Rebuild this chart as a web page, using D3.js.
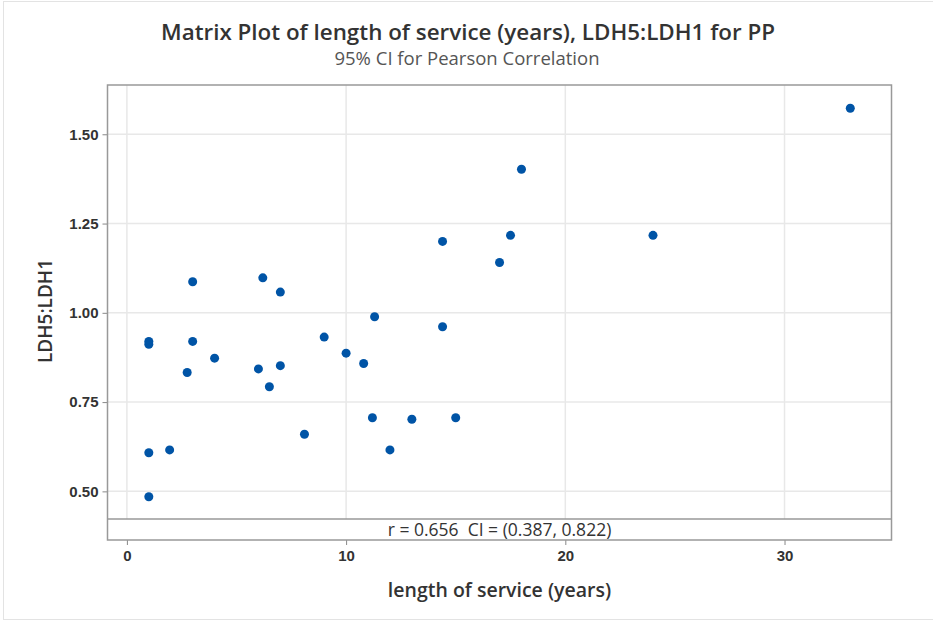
<!DOCTYPE html>
<html>
<head>
<meta charset="utf-8">
<script src="https://cdn.jsdelivr.net/npm/d3@7"></script>
<style>
  body { margin: 0; background: #fff; }
  svg { display: block; font-family: "Open Sans", "Noto Sans", sans-serif; }
</style>
</head>
<body>
<svg id="chart" width="933" height="621"></svg>
<script>
// length of service (years) vs LDH5:LDH1, one entry per subject
const service = [1, 1, 1, 1, 1.95, 2.75, 3, 3, 4, 6, 6.2, 6.5, 7, 7, 8.1, 9, 10, 10.8, 11.2, 11.3, 12, 13, 14.4, 14.4, 15, 17, 17.5, 18, 24, 33];
const ratio   = [0.92, 0.912, 0.608, 0.485, 0.616, 0.833, 1.087, 0.92, 0.873, 0.843, 1.098, 0.793, 1.058, 0.852, 0.66, 0.932, 0.887, 0.858, 0.706, 0.989, 0.616, 0.702, 1.2, 0.961, 0.706, 1.141, 1.217, 1.402, 1.217, 1.573];
const xTicks = [0, 10, 20, 30];
const yTicks = [0.50, 0.75, 1.00, 1.25, 1.50];
const title = "Matrix Plot of length of service (years), LDH5:LDH1 for PP";
const subtitle = "95% CI for Pearson Correlation";
const corrText = "r = 0.656  CI = (0.387, 0.822)";

const svg = d3.select("#chart");
const W = 933, H = 621;
const box = { left: 107.5, right: 891.5, top: 85, bottom: 540, info: 519 };

// outer frame
svg.append("rect")
    .attr("x", 3.5).attr("y", 1.5)
    .attr("width", W + 10).attr("height", H - 3)
    .attr("fill", "#fff").attr("stroke", "#e3e3e3");

const x = d3.scaleLinear().domain([-0.885, 34.88]).range([box.left, box.right]);
const y = d3.scaleLinear().domain([0.4226, 1.638]).range([box.info, box.top]);

// gridlines
svg.append("g").selectAll("line.gx").data(xTicks).enter().append("line")
    .attr("x1", d => x(d)).attr("x2", d => x(d))
    .attr("y1", box.top).attr("y2", box.info)
    .attr("stroke", "#e8e8e8").attr("stroke-width", 1.5);
svg.append("g").selectAll("line.gy").data(yTicks).enter().append("line")
    .attr("x1", box.left).attr("x2", box.right)
    .attr("y1", d => y(d)).attr("y2", d => y(d))
    .attr("stroke", "#e8e8e8").attr("stroke-width", 1.5);

// axes
const xAxis = svg.append("g")
    .attr("transform", `translate(0,${box.bottom})`)
    .call(d3.axisBottom(x).tickValues(xTicks).tickSize(5).tickPadding(5).tickFormat(d3.format("d")));
const yAxis = svg.append("g")
    .attr("transform", `translate(${box.left},0)`)
    .call(d3.axisLeft(y).tickValues(yTicks).tickSize(5).tickPadding(4).tickFormat(d3.format(".2f")));
[xAxis, yAxis].forEach(a => {
    a.select(".domain").remove();
    a.selectAll("line").attr("stroke", "#888");
    a.selectAll("text").attr("fill", "#333").style("font-size", "15px").style("font-weight", 600);
});

// info panel + border
svg.append("line")
    .attr("x1", box.left).attr("x2", box.right)
    .attr("y1", box.info).attr("y2", box.info)
    .attr("stroke", "#999").attr("stroke-width", 1.5);
svg.append("rect")
    .attr("x", box.left).attr("y", box.top)
    .attr("width", box.right - box.left).attr("height", box.bottom - box.top)
    .attr("fill", "none").attr("stroke", "#999").attr("stroke-width", 1.5);

svg.append("text")
    .attr("x", (box.left + box.right) / 2).attr("y", 536)
    .attr("text-anchor", "middle").attr("fill", "#333")
    .attr("xml:space", "preserve")
    .style("white-space", "pre")
    .style("font-size", "17.5px")
    .text(corrText);

// points
svg.append("g").selectAll("circle").data(service).enter().append("circle")
    .attr("cx", d => x(d))
    .attr("cy", (d, i) => y(ratio[i]))
    .attr("r", 4.5)
    .attr("fill", "#0054a6");

// titles
svg.append("text")
    .attr("x", 468).attr("y", 40)
    .attr("text-anchor", "middle").attr("fill", "#333")
    .style("font-size", "22.4px").style("font-weight", 600)
    .text(title);
svg.append("text")
    .attr("x", 467).attr("y", 65)
    .attr("text-anchor", "middle").attr("fill", "#555")
    .style("font-size", "18.5px")
    .text(subtitle);

svg.append("text")
    .attr("x", (box.left + box.right) / 2).attr("y", 597)
    .attr("text-anchor", "middle").attr("fill", "#333")
    .style("font-size", "19.5px").style("font-weight", 600)
    .text("length of service (years)");
svg.append("text")
    .attr("transform", "translate(52,311) rotate(-90)")
    .attr("text-anchor", "middle").attr("fill", "#333")
    .style("font-size", "19px").style("font-weight", 600)
    .text("LDH5:LDH1");
</script>
</body>
</html>
